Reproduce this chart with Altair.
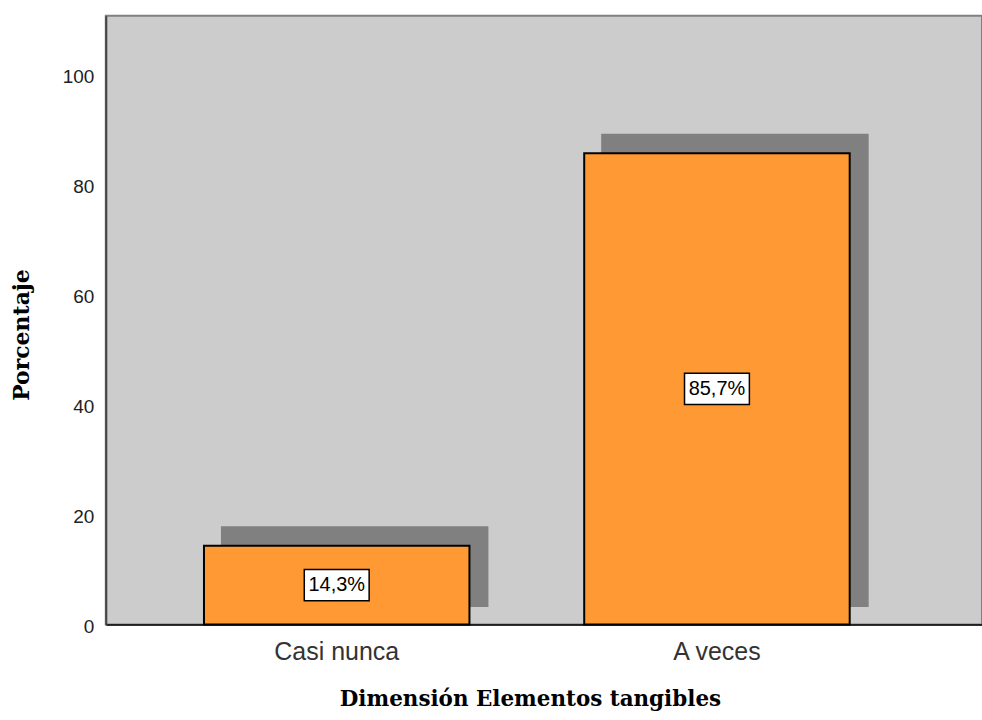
import altair as alt
import pandas as pd

# Frequency table: share of answers per category
categorias = ["Casi nunca", "A veces"]
porcentajes = [14.3, 85.7]
etiquetas = ["14,3%", "85,7%"]

df = pd.DataFrame({"cat": categorias, "pct": porcentajes, "lbl": etiquetas})
df["mid"] = df["pct"] / 2

x_scale = alt.Scale(domain=categorias, paddingInner=0.3018, paddingOuter=0.3031, align=0.426)
y_scale = alt.Scale(domain=[0, 110.7], nice=False)

x_enc = alt.X(
    "cat:N",
    scale=x_scale,
    sort=categorias,
    axis=alt.Axis(
        title="Dimensión Elementos tangibles",
        titleFont="DejaVu Serif",
        titleFontWeight="bold",
        titleFontSize=21.5,
        titleColor="#000000",
        titleX=425,
        titleY=81,
        titleAlign="center",
        titleBaseline="alphabetic",
        labelAngle=0,
        labelFont="Liberation Sans",
        labelFontSize=25,
        labelColor="#333333",
        labelPadding=15,
        ticks=False,
        domainColor="#000000",
        domainWidth=1.5,
    ),
)

y_axis = alt.Axis(
    title="Porcentaje",
    titleFont="DejaVu Serif",
    titleFontWeight="bold",
    titleFontSize=22,
    titleColor="#000000",
    titleAngle=270,
    titleX=-77,
    titleY=319.5,
    titleAlign="center",
    titleBaseline="alphabetic",
    values=[0, 20, 40, 60, 80, 100],
    labelFont="Liberation Sans",
    labelFontSize=19,
    labelColor="#222222",
    labelPadding=12,
    labelOffset=2,
    ticks=False,
    grid=False,
    domainColor="#444444",
    domainWidth=2,
)

base = alt.Chart(df)

# drop shadow behind each bar
sombra = base.mark_bar(
    color="#808080", stroke="#808080", strokeWidth=2,
    xOffset=18, x2Offset=18, yOffset=-18.5, y2Offset=-18.5,
).encode(x=x_enc, y=alt.Y("pct:Q", scale=y_scale, axis=y_axis))

barras = base.mark_bar(
    color="#FF9933", stroke="#000000", strokeWidth=2
).encode(x=x_enc, y=alt.Y("pct:Q", scale=y_scale, axis=y_axis))

# white label boxes at mid-height of each bar
cajas = base.mark_point(
    shape="M-1,-0.48 L1,-0.48 L1,0.48 L-1,0.48 Z",
    size=4225,
    filled=True,
    fill="#FFFFFF",
    stroke="#000000",
    strokeWidth=1.5,
    opacity=1,
).encode(x=x_enc, y=alt.Y("mid:Q", scale=y_scale, axis=y_axis))

textos = base.mark_text(
    font="Liberation Sans", fontSize=20, color="#000000", baseline="middle", align="center"
).encode(x=x_enc, y=alt.Y("mid:Q", scale=y_scale, axis=y_axis), text="lbl:N")

chart = (
    alt.layer(sombra, barras, cajas, textos)
    .properties(
        width=878,
        height=610,
        autosize=alt.AutoSizeParams(type="none"),
        padding={"left": 106, "top": 15, "right": 0, "bottom": 95},
        background="#FFFFFF",
    )
    .configure_view(fill="#CCCCCC", stroke="#808080", strokeWidth=2)
)

chart.save("out.html", embed_options={"renderer": "svg", "actions": False})
